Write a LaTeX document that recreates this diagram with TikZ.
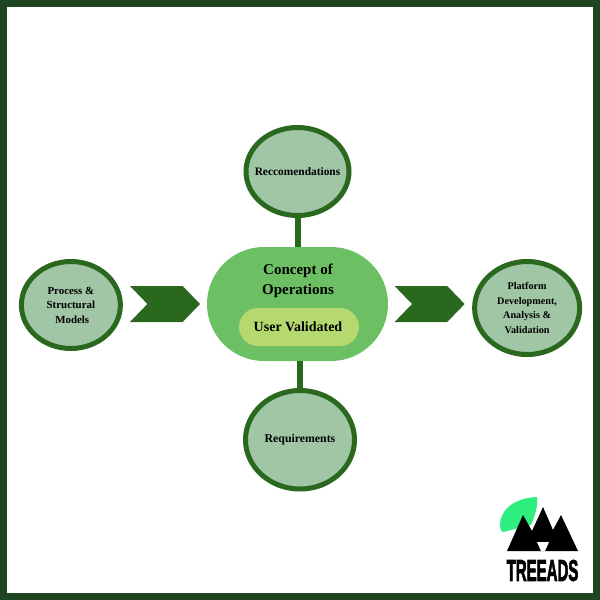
\documentclass[tikz,border=0pt]{standalone}
\usepackage{fontspec}
\setmainfont{Liberation Serif}
\setsansfont{Liberation Sans}
\newfontfamily\brandfont[FakeBold=3]{Liberation Sans Bold}
\usetikzlibrary{positioning,shapes.geometric,shapes.symbols}
\definecolor{edge}{RGB}{31,68,32}
\definecolor{forest}{RGB}{42,104,30}
\definecolor{sage}{RGB}{160,198,166}
\definecolor{hubgreen}{RGB}{108,191,98}
\definecolor{lime}{RGB}{181,217,111}
\definecolor{leaf}{RGB}{46,238,128}
\begin{document}
\begin{tikzpicture}[x=1pt,y=-1pt,font=\bfseries,outer sep=0pt,inner sep=0pt,
disc/.style={ellipse,inner sep=-14pt,draw=forest,line width=5pt,fill=sage,align=center,font=\bfseries\fontsize{10.2}{14.5}\selectfont},
hub/.style={draw=none,fill=hubgreen,rounded corners=57pt,minimum width=181pt,minimum height=114pt},
pill/.style={draw=none,fill=lime,rounded corners=19pt,minimum width=120pt,minimum height=38pt,font=\bfseries\fontsize{14}{16}\selectfont},
chevron/.style={signal,signal from=west,signal to=east,signal pointer angle=92,fill=forest,minimum width=70pt,minimum height=36pt},
link/.style={draw=forest,line width=6pt}]
\useasboundingbox (0,0) rectangle (600,600);
\draw[edge,line width=7pt] (3.5,3.5) rectangle (596.5,596.5);
\node[hub] (concept) at (297.5,304) {};
\node[pill] (user) at (299,327) {\hspace*{-2pt}User Validated};
\node[above=10pt of user,xshift=-1pt,align=center,font=\bfseries\fontsize{15}{20}\selectfont] (title) {Concept of\\Operations};
\node[disc,minimum width=103pt,minimum height=88pt,above=31.5pt of concept,font=\bfseries\fontsize{11.4}{14}\selectfont] (recs) {Reccomendations};
\node[disc,minimum width=109pt,minimum height=98.5pt,below=29.5pt of concept,xshift=2.5pt,font=\bfseries\fontsize{11.8}{14}\selectfont] (reqs) {Requirements};
\node[chevron,left=7pt of concept] (inflow) {};
\node[chevron,right=24pt of concept] (outflow) {};
\node[disc,minimum width=99pt,minimum height=87pt,left=27pt of inflow,yshift=-1pt,font=\bfseries\fontsize{10.9}{14.5}\selectfont] (models) {Process \&\\Structural\\\ Models};
\node[disc,minimum width=105pt,minimum height=93pt,right=10pt of outflow,yshift=-4pt] (platform) {Platform\\Development,\\Analysis \&\\Validation};
\draw[link] (recs.south)--(concept.north -| recs.south); \draw[link] (concept.south -| reqs.north)--(reqs.north);
% logo
\fill[leaf] (537,497) .. controls (516,498) and (500,508) .. (500,526) .. controls (500,529) and (501,531) .. (503,532) -- (531,525) .. controls (535,516) and (538,506) .. (537,497) -- cycle;
\fill[black] (507,551) -- (523,515) -- (532,531) -- (543,507) -- (553,530) -- (561,515) -- (578,551) -- cycle;
\fill[white] (537,542) -- (549,542) -- (545,551) -- (541,551) -- cycle;
\node[font=\brandfont\fontsize{30}{30}\selectfont,xscale=.5] (brand) at (542.5,570.5) {TREEADS};
\end{tikzpicture}
\end{document}
